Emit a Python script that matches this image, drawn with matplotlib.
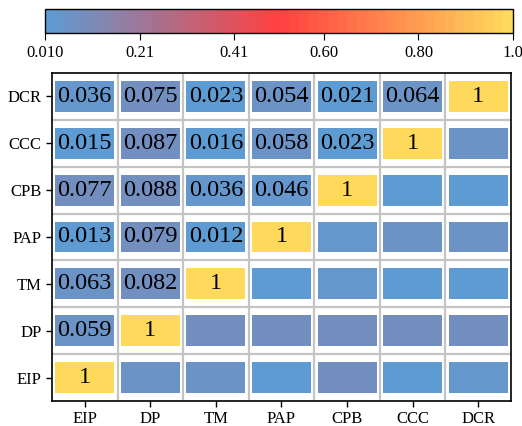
import matplotlib.pyplot as plt
import numpy as np
from matplotlib.colors import LinearSegmentedColormap, Normalize

plt.rcParams['font.family'] = ['Liberation Serif', 'DejaVu Serif']

names = ["EIP", "DP", "TM", "PAP", "CPB", "CCC", "DCR"]
# lower triangle, row i lists corr with names[0..i]
rows = [
    [1],
    [0.059, 1],
    [0.063, 0.082, 1],
    [0.013, 0.079, 0.012, 1],
    [0.077, 0.088, 0.036, 0.046, 1],
    [0.015, 0.087, 0.016, 0.058, 0.023, 1],
    [0.036, 0.075, 0.023, 0.054, 0.021, 0.064, 1],
]
cbar_ticks = [0.010, 0.21, 0.41, 0.60, 0.80, 1.0]
cbar_labels = ["0.010", "0.21", "0.41", "0.60", "0.80", "1.0"]

n = len(names)
M = np.zeros((n, n))
for i, r in enumerate(rows):
    for j, v in enumerate(r):
        M[i, j] = v
        M[j, i] = v

cmap = LinearSegmentedColormap.from_list(
    "bry", ["#5E9BD3", "#FF4040", "#FFD95C"], N=48)
norm = Normalize(vmin=0.010, vmax=1.0)

fig = plt.figure(figsize=(5.22, 4.26), dpi=100)
ax = fig.add_axes([0.0996, 0.0587, 0.8793, 0.770])
cax = fig.add_axes([0.0862, 0.9225, 0.8966, 0.0563])

for i in range(n):
    for j in range(n):
        v = M[i, j]
        ax.bar(j, 0.66, bottom=i - 0.33, width=0.9, color=cmap(norm(v)),
               edgecolor="none", zorder=2)
        if j <= i:
            txt = "1" if v == 1 else f"{v:.3f}"
            ax.text(j, i, txt, ha="center", va="center", fontsize=17.5,
                    color="black", zorder=3)

for k in range(1, n):
    ax.axvline(k - 0.5, color="#C4C4C4", lw=1.6, zorder=1)
    ax.axhline(k - 0.5, color="#C4C4C4", lw=1.6, zorder=1)

ax.set_xlim(-0.5, n - 0.5)
ax.set_ylim(-0.5, n - 0.5)
ax.set_xticks(range(n))
ax.set_xticklabels(names, fontsize=12)
ax.set_yticks(range(n))
ax.set_yticklabels(names, fontsize=12)
ax.tick_params(direction="out", length=4, width=1)
for s in ax.spines.values():
    s.set_linewidth(1.2)

sm = plt.cm.ScalarMappable(norm=norm, cmap=cmap)
cb = fig.colorbar(sm, cax=cax, orientation="horizontal")
cb.set_ticks(cbar_ticks)
cb.set_ticklabels(cbar_labels)
cb.ax.tick_params(labelsize=12, direction="out", length=5)
cb.outline.set_linewidth(1.0)

fig.savefig("out.png", dpi=100)
